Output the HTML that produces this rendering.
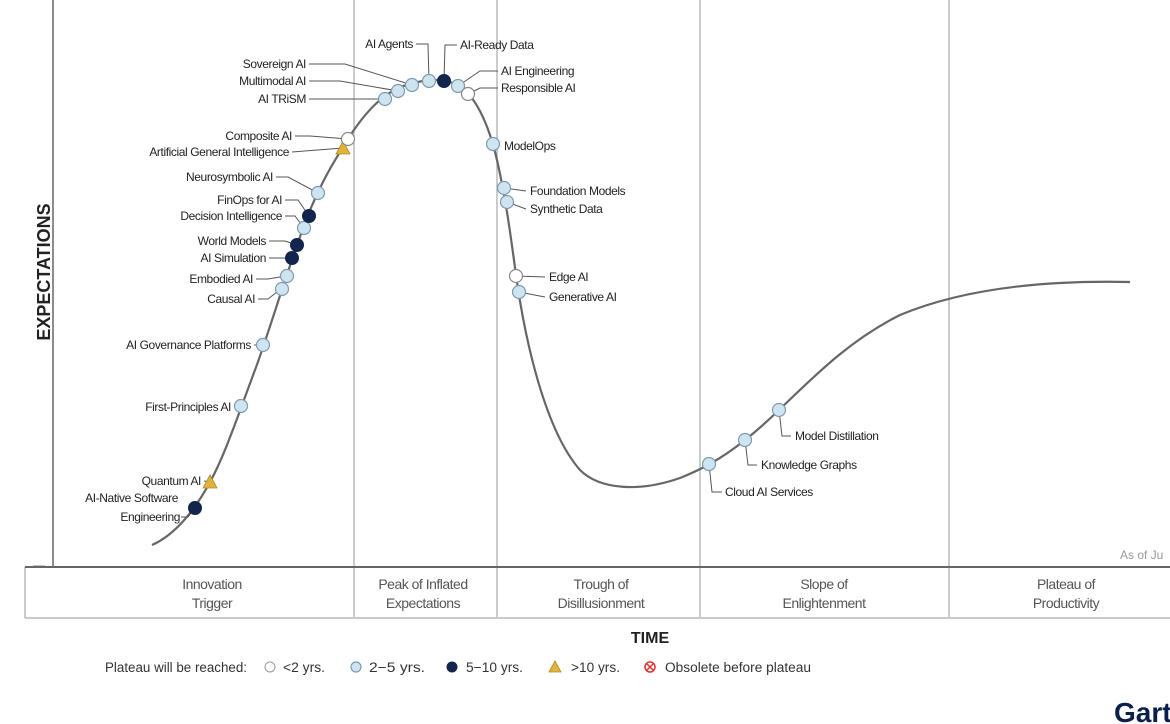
<!DOCTYPE html>
<html><head><meta charset="utf-8"><style>
html,body{margin:0;padding:0;background:#fff;}
svg{display:block;font-family:"Liberation Sans",sans-serif;}
.l{font-size:12px;fill:#222;letter-spacing:-0.4px;}
.p{font-size:14px;fill:#555;letter-spacing:-0.5px;}
.ld{stroke:#555;stroke-width:1;fill:none;}
.b{fill:#cfe4f1;stroke:#7d9bb2;stroke-width:1.2;}
.w{fill:#fff;stroke:#888;stroke-width:1.2;}
.n{fill:#13254c;stroke:#13254c;stroke-width:1;}
.t{fill:#e0b43c;stroke:#b08a20;stroke-width:0.8;}
</style></head><body>
<svg width="1170" height="724" viewBox="0 0 1170 724">
<line x1="53" y1="0" x2="53" y2="567" stroke="#666" stroke-width="1.5"/>
<g stroke="#aaa" stroke-width="1.2">
<line x1="354" y1="0" x2="354" y2="617"/><line x1="497" y1="0" x2="497" y2="617"/>
<line x1="700" y1="0" x2="700" y2="617"/><line x1="949" y1="0" x2="949" y2="617"/>
<line x1="25" y1="567" x2="25" y2="618"/><line x1="25" y1="618" x2="1170" y2="618"/>
</g>
<line x1="33" y1="566" x2="45" y2="566" stroke="#888" stroke-width="1"/>
<line x1="25" y1="567" x2="1170" y2="567" stroke="#666" stroke-width="2"/>
<text x="0" y="0" transform="translate(50,272) rotate(-90)" text-anchor="middle" font-size="18" font-weight="bold" fill="#222">EXPECTATIONS</text>
<path d="M152,545 C175,535 195,510 210,482 C225,455 240,410 255,370 C270,330 290,260 310,210 C325,175 335,160 348,139 C365,112 385,90 410,84 C430,78 450,78 465,90 C480,105 490,130 497,160 C505,195 510,230 516,275 C525,340 545,430 580,470 C600,490 640,492 680,478 C700,470 720,460 745,440 C790,405 830,350 900,315 C960,290 1040,280 1130,282" fill="none" stroke="#666" stroke-width="2.2"/>
<g class="ld">
<polyline points="181,517 188,517 195,508"/>
<polyline points="204,481 210,482"/>
<polyline points="234,407 241,406"/>
<polyline points="254,345 263,345"/>
<polyline points="258,299 268,299 282,288"/>
<polyline points="256,279 268,279 286,276"/>
<polyline points="269,258 292,258"/>
<polyline points="269,241 285,241 297,245"/>
<polyline points="285,216 295,216 304,228"/>
<polyline points="285,200 298,200 309,216"/>
<polyline points="276,177 288,177 318,193"/>
<polyline points="292,152 343,148"/>
<polyline points="295,136 310,136 348,139"/>
<polyline points="309,99 385,99"/>
<polyline points="309,81 340,81 398,91"/>
<polyline points="309,64 345,64 412,85"/>
<polyline points="416,44 428,44 429,81"/>
<polyline points="457,45 445,45 444,81"/>
<polyline points="498,71 480,71 458,86"/>
<polyline points="498,88 480,88 468,94"/>
<polyline points="526,191 504,188"/>
<polyline points="526,209 507,202"/>
<polyline points="545,277 516,276"/>
<polyline points="545,297 519,292"/>
<polyline points="722,492 712,492 709,464"/>
<polyline points="757,465 748,465 745,440"/>
<polyline points="791,436 782,436 779,410"/>
</g>
<circle class="n" cx="195" cy="508" r="6.5"/>
<polygon class="t" points="210,475 217,488 203,488"/>
<circle class="b" cx="241" cy="406" r="6.5"/>
<circle class="b" cx="263" cy="345" r="6.5"/>
<circle class="b" cx="282" cy="289" r="6.5"/>
<circle class="b" cx="287" cy="276" r="6.5"/>
<circle class="n" cx="292" cy="258" r="6.5"/>
<circle class="n" cx="297" cy="245" r="6.5"/>
<circle class="b" cx="304" cy="228" r="6.5"/>
<circle class="n" cx="309" cy="216" r="6.5"/>
<circle class="b" cx="318" cy="193" r="6.5"/>
<polygon class="t" points="343,141 350,154 336,154"/>
<circle class="w" cx="348" cy="139" r="6.5"/>
<circle class="b" cx="385" cy="99" r="6.5"/>
<circle class="b" cx="398" cy="91" r="6.5"/>
<circle class="b" cx="412" cy="85" r="6.5"/>
<circle class="b" cx="429" cy="81" r="6.5"/>
<circle class="n" cx="444" cy="81" r="6.5"/>
<circle class="b" cx="458" cy="86" r="6.5"/>
<circle class="w" cx="468" cy="94" r="6.5"/>
<circle class="b" cx="493" cy="144" r="6.5"/>
<circle class="b" cx="504" cy="188" r="6.5"/>
<circle class="b" cx="507" cy="202" r="6.5"/>
<circle class="w" cx="516" cy="276" r="6.5"/>
<circle class="b" cx="519" cy="292" r="6.5"/>
<circle class="b" cx="709" cy="464" r="6.5"/>
<circle class="b" cx="745" cy="440" r="6.5"/>
<circle class="b" cx="779" cy="410" r="6.5"/>
<g class="l" text-anchor="end">
<text x="178" y="502">AI-Native Software</text><text x="180" y="521">Engineering</text>
<text x="201" y="485">Quantum AI</text>
<text x="231" y="411">First-Principles AI</text>
<text x="251" y="349">AI Governance Platforms</text>
<text x="255" y="303">Causal AI</text>
<text x="253" y="283">Embodied AI</text>
<text x="266" y="262">AI Simulation</text>
<text x="266" y="245">World Models</text>
<text x="282" y="220">Decision Intelligence</text>
<text x="282" y="204">FinOps for AI</text>
<text x="273" y="181">Neurosymbolic AI</text>
<text x="289" y="156">Artificial General Intelligence</text>
<text x="292" y="140">Composite AI</text>
<text x="306" y="103">AI TRiSM</text>
<text x="306" y="85">Multimodal AI</text>
<text x="306" y="68">Sovereign AI</text>
<text x="413" y="48">AI Agents</text>
</g>
<g class="l">
<text x="460" y="49">AI-Ready Data</text>
<text x="501" y="75">AI Engineering</text>
<text x="501" y="92">Responsible AI</text>
<text x="504" y="150">ModelOps</text>
<text x="530" y="195">Foundation Models</text>
<text x="530" y="213">Synthetic Data</text>
<text x="549" y="281">Edge AI</text>
<text x="549" y="301">Generative AI</text>
<text x="725" y="496">Cloud AI Services</text>
<text x="761" y="469">Knowledge Graphs</text>
<text x="795" y="440">Model Distillation</text>
</g>
<text x="1120" y="559" font-size="12" fill="#999">As of Ju</text>
<g class="p" text-anchor="middle">
<text x="212" y="589">Innovation</text><text x="212" y="608">Trigger</text>
<text x="423" y="589">Peak of Inflated</text><text x="423" y="608">Expectations</text>
<text x="601" y="589">Trough of</text><text x="601" y="608">Disillusionment</text>
<text x="824" y="589">Slope of</text><text x="824" y="608">Enlightenment</text>
<text x="1066" y="589">Plateau of</text><text x="1066" y="608">Productivity</text>
</g>
<text x="650" y="643" text-anchor="middle" font-size="16" font-weight="bold" fill="#222">TIME</text>
<g font-size="13.5" fill="#333">
<text x="105" y="672" textLength="142" lengthAdjust="spacingAndGlyphs">Plateau will be reached:</text>
<circle cx="270" cy="667" r="5" fill="#fff" stroke="#999"/><text x="283" y="672" textLength="42" lengthAdjust="spacingAndGlyphs">&lt;2 yrs.</text>
<circle cx="356" cy="667" r="5" class="b"/><text x="369" y="672" textLength="56" lengthAdjust="spacingAndGlyphs">2−5 yrs.</text>
<circle cx="452" cy="667" r="5" class="n"/><text x="466" y="672" textLength="57" lengthAdjust="spacingAndGlyphs">5−10 yrs.</text>
<polygon class="t" points="555,661 561,672 549,672"/><text x="571" y="672" textLength="49" lengthAdjust="spacingAndGlyphs">&gt;10 yrs.</text>
<circle cx="650" cy="667" r="5" fill="#fff" stroke="#d33" stroke-width="1.5"/>
<path d="M647,664 L653,670 M653,664 L647,670" stroke="#d33" stroke-width="1.5"/>
<text x="665" y="672" textLength="146" lengthAdjust="spacingAndGlyphs">Obsolete before plateau</text>
</g>
<text x="1114" y="722" font-size="28" font-weight="bold" fill="#0b1f4b">Gart</text>
</svg>
</body></html>
